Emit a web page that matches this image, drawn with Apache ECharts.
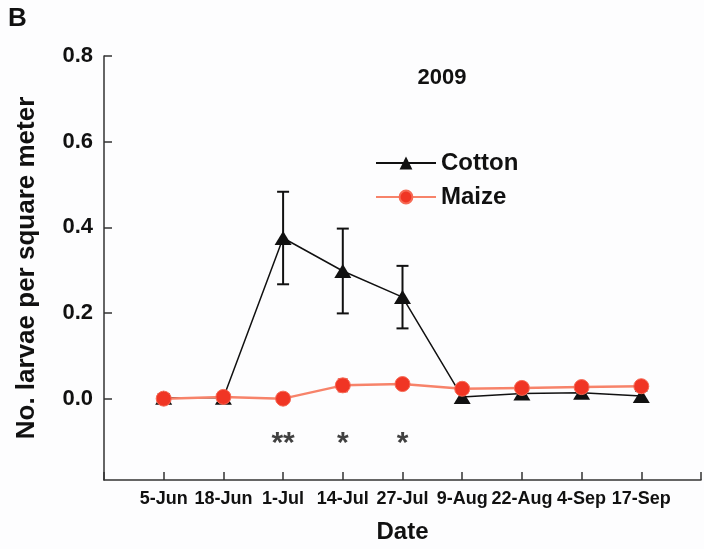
<!DOCTYPE html>
<html>
<head>
<meta charset="utf-8">
<script src="https://cdn.jsdelivr.net/npm/echarts@6/dist/echarts.min.js"></script>
<style>
html,body{margin:0;padding:0;background:#fdfdfe;}
#chart{width:704px;height:549px;}
</style>
</head>
<body>
<div id="chart"></div>
<script>
// ---- data ----
const dates = ['5-Jun','18-Jun','1-Jul','14-Jul','27-Jul','9-Aug','22-Aug','4-Sep','17-Sep'];
const cotton    = [0.002, 0.002, 0.375, 0.298, 0.237, 0.004, 0.012, 0.014, 0.006];
const cottonErr = [0.008, 0.004, 0.108, 0.099, 0.073, 0.010, 0.012, 0.012, 0.012];
const maize     = [0.000, 0.004, 0.000, 0.031, 0.034, 0.023, 0.025, 0.027, 0.029];
const maizeErr  = [0.003, 0.003, 0.003, 0.014, 0.008, 0.005, 0.005, 0.006, 0.005];
const yTicks = [0, 0.2, 0.4, 0.6, 0.8];
const sigDates = ['1-Jul', '14-Jul', '27-Jul'];
const sigMarks = ['**', '*', '*'];
const sigLevel = -0.09;
const yearLabel = '2009';
const panelLabel = 'B';

// ---- build ----
const FONT = 'Liberation Sans, Arial, sans-serif';
const xOf = d => dates.indexOf(d) + 1;
const pts = vals => vals.map((v, i) => [i + 1, v]);
const errs = (vals, e) => vals.map((v, i) => [i + 1, v - e[i], v + e[i]]);

function errRender(color, cap, lw) {
  return function (params, api) {
    const x = api.value(0);
    const lo = api.coord([x, api.value(1)]);
    const hi = api.coord([x, api.value(2)]);
    const st = { stroke: color, lineWidth: lw };
    return {
      type: 'group',
      children: [
        { type: 'line', shape: { x1: lo[0], y1: lo[1], x2: hi[0], y2: hi[1] }, style: st },
        { type: 'line', shape: { x1: lo[0] - cap, y1: lo[1], x2: lo[0] + cap, y2: lo[1] }, style: st },
        { type: 'line', shape: { x1: hi[0] - cap, y1: hi[1], x2: hi[0] + cap, y2: hi[1] }, style: st }
      ]
    };
  };
}

const chart = echarts.init(document.getElementById('chart'), null, { renderer: 'canvas' });
chart.setOption({
  backgroundColor: '#fdfdfe',
  animation: false,
  textStyle: { fontFamily: FONT },
  grid: { left: 104, right: 1, top: 56, bottom: 67, containLabel: false },
  graphic: [
    { type: 'text', left: 8, top: 6, style: { text: panelLabel, font: 'bold 26px ' + FONT, fill: '#111' } },
    { type: 'text', x: 442, y: 78, style: { text: yearLabel, font: 'bold 22px ' + FONT, fill: '#111', align: 'center', verticalAlign: 'middle' } }
  ],
  legend: {
    orient: 'vertical',
    left: 370, top: 146,
    itemWidth: 60, itemHeight: 16, itemGap: 10,
    textStyle: { fontSize: 24, fontWeight: 'bold', color: '#111', lineHeight: 24, fontFamily: FONT },
    data: ['Cotton', 'Maize']
  },
  xAxis: {
    type: 'value', min: 0, max: 10, interval: 1,
    name: 'Date', nameLocation: 'middle', nameGap: 40,
    nameTextStyle: { fontSize: 24, fontWeight: 'bold', color: '#111' },
    axisLine: { onZero: false, lineStyle: { color: '#333', width: 1.5 } },
    axisTick: { inside: true, length: 8, lineStyle: { color: '#333', width: 1.5 } },
    splitLine: { show: false },
    axisLabel: {
      margin: 10, fontSize: 18, fontWeight: 'bold', color: '#111',
      formatter: v => dates[v - 1] || ''
    }
  },
  yAxis: {
    type: 'value', min: -0.19, max: 0.8,
    name: 'No. larvae per square meter', nameLocation: 'middle', nameGap: 64,
    nameTextStyle: { fontSize: 26, fontWeight: 'bold', color: '#111' },
    axisLine: { show: true, onZero: false, lineStyle: { color: '#333', width: 1.5 } },
    axisTick: { show: true, inside: true, length: 8, customValues: yTicks, lineStyle: { color: '#333', width: 1.5 } },
    splitLine: { show: false },
    axisLabel: {
      customValues: yTicks, margin: 11, fontSize: 22, fontWeight: 'bold', color: '#111',
      formatter: v => v.toFixed(1)
    }
  },
  series: [
    {
      type: 'custom', name: 'cottonErr', data: errs(cotton, cottonErr),
      renderItem: errRender('#111', 6, 2), z: 2, silent: true
    },
    {
      type: 'line', name: 'Cotton', data: pts(cotton),
      symbol: 'triangle', symbolSize: [17, 14],
      lineStyle: { color: '#111', width: 1.5 },
      itemStyle: { color: '#111' }, z: 3
    },
    {
      type: 'custom', name: 'maizeErr', data: errs(maize, maizeErr),
      renderItem: errRender('#e03020', 5, 2), z: 4, silent: true
    },
    {
      type: 'line', name: 'Maize', data: pts(maize),
      symbol: 'circle', symbolSize: 15,
      lineStyle: { color: '#f7836a', width: 2.5 },
      itemStyle: { color: '#f03524', borderColor: '#f66a55', borderWidth: 1 }, z: 5
    },
    {
      type: 'scatter', name: 'sig', data: sigDates.map((d, i) => [xOf(d), sigLevel, sigMarks[i]]),
      symbolSize: 0, silent: true,
      label: {
        show: true, position: 'inside', formatter: p => p.value[2],
        fontSize: 30, fontWeight: 'bold', color: '#111', offset: [0, 7]
      }
    }
  ]
});
</script>
</body>
</html>
